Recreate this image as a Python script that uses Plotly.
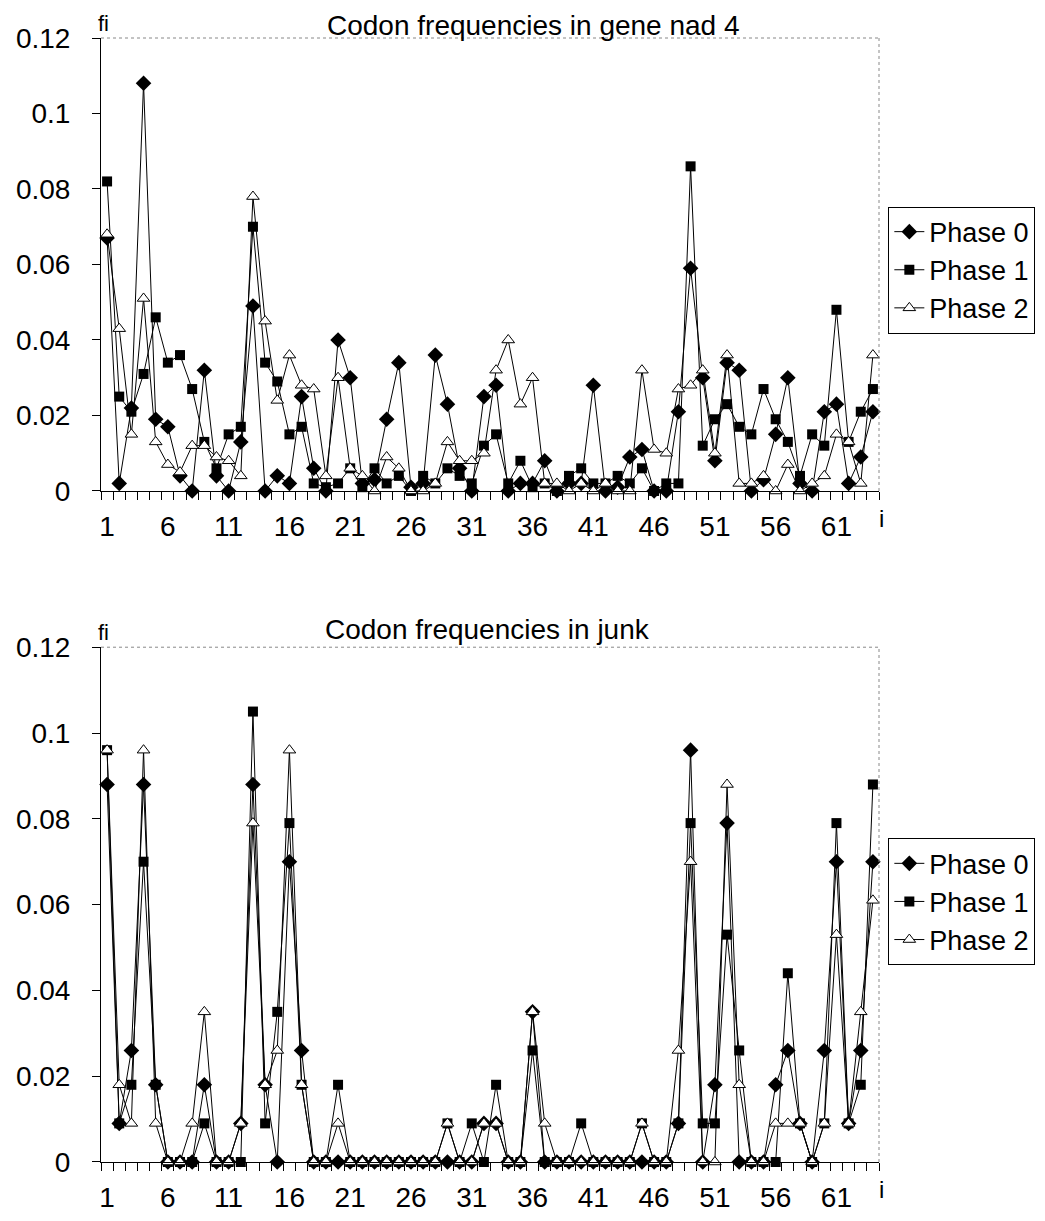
import plotly.graph_objects as go

# codon index 1..64
codons = list(range(1, 65))

# Codon frequencies in gene nad 4
nad4_phase0 = [0.067, 0.002, 0.022, 0.108, 0.019, 0.017, 0.004, 0.000, 0.032, 0.004,
               0.000, 0.013, 0.049, 0.000, 0.004, 0.002, 0.025, 0.006, 0.000, 0.040,
               0.030, 0.002, 0.003, 0.019, 0.034, 0.001, 0.002, 0.036, 0.023, 0.006,
               0.000, 0.025, 0.028, 0.000, 0.002, 0.002, 0.008, 0.000, 0.002, 0.002,
               0.028, 0.000, 0.001, 0.009, 0.011, 0.000, 0.000, 0.021, 0.059, 0.030,
               0.008, 0.034, 0.032, 0.000, 0.003, 0.015, 0.030, 0.002, 0.000, 0.021,
               0.023, 0.002, 0.009, 0.021]
nad4_phase1 = [0.082, 0.025, 0.021, 0.031, 0.046, 0.034, 0.036, 0.027, 0.013, 0.006,
               0.015, 0.017, 0.070, 0.034, 0.029, 0.015, 0.017, 0.002, 0.001, 0.002,
               0.006, 0.001, 0.006, 0.002, 0.004, 0.000, 0.004, 0.002, 0.006, 0.004,
               0.002, 0.012, 0.015, 0.002, 0.008, 0.001, 0.002, 0.000, 0.004, 0.006,
               0.002, 0.002, 0.004, 0.002, 0.006, 0.000, 0.002, 0.002, 0.086, 0.012,
               0.019, 0.023, 0.017, 0.015, 0.027, 0.019, 0.013, 0.004, 0.015, 0.012,
               0.048, 0.013, 0.021, 0.027]
nad4_phase2 = [0.068, 0.043, 0.015, 0.051, 0.013, 0.007, 0.005, 0.012, 0.012, 0.009,
               0.008, 0.004, 0.078, 0.045, 0.024, 0.036, 0.028, 0.027, 0.004, 0.030,
               0.006, 0.004, 0.000, 0.009, 0.006, 0.000, 0.000, 0.002, 0.013, 0.008,
               0.008, 0.010, 0.032, 0.040, 0.023, 0.030, 0.002, 0.002, 0.000, 0.002,
               0.000, 0.002, 0.000, 0.000, 0.032, 0.011, 0.010, 0.027, 0.028, 0.032,
               0.010, 0.036, 0.002, 0.002, 0.004, 0.000, 0.007, 0.000, 0.002, 0.004,
               0.015, 0.013, 0.002, 0.036]

# Codon frequencies in junk
junk_phase0 = [0.088, 0.009, 0.026, 0.088, 0.018, 0.000, 0.000, 0.000, 0.018, 0.000,
               0.000, 0.009, 0.088, 0.018, 0.000, 0.070, 0.026, 0.000, 0.000, 0.000,
               0.000, 0.000, 0.000, 0.000, 0.000, 0.000, 0.000, 0.000, 0.000, 0.000,
               0.000, 0.009, 0.009, 0.000, 0.000, 0.035, 0.000, 0.000, 0.000, 0.000,
               0.000, 0.000, 0.000, 0.000, 0.000, 0.000, 0.000, 0.009, 0.096, 0.000,
               0.018, 0.079, 0.000, 0.000, 0.000, 0.018, 0.026, 0.009, 0.000, 0.026,
               0.070, 0.009, 0.026, 0.070]
junk_phase1 = [0.096, 0.009, 0.018, 0.070, 0.018, 0.000, 0.000, 0.000, 0.009, 0.000,
               0.000, 0.000, 0.105, 0.009, 0.035, 0.079, 0.018, 0.000, 0.000, 0.018,
               0.000, 0.000, 0.000, 0.000, 0.000, 0.000, 0.000, 0.000, 0.009, 0.000,
               0.009, 0.000, 0.018, 0.000, 0.000, 0.026, 0.000, 0.000, 0.000, 0.009,
               0.000, 0.000, 0.000, 0.000, 0.009, 0.000, 0.000, 0.009, 0.079, 0.009,
               0.009, 0.053, 0.026, 0.000, 0.000, 0.000, 0.044, 0.009, 0.000, 0.009,
               0.079, 0.009, 0.018, 0.088]
junk_phase2 = [0.096, 0.018, 0.009, 0.096, 0.009, 0.000, 0.000, 0.009, 0.035, 0.000,
               0.000, 0.009, 0.079, 0.018, 0.026, 0.096, 0.018, 0.000, 0.000, 0.009,
               0.000, 0.000, 0.000, 0.000, 0.000, 0.000, 0.000, 0.000, 0.009, 0.000,
               0.000, 0.009, 0.009, 0.000, 0.000, 0.035, 0.009, 0.000, 0.000, 0.000,
               0.000, 0.000, 0.000, 0.000, 0.009, 0.000, 0.000, 0.026, 0.070, 0.000,
               0.000, 0.088, 0.018, 0.000, 0.000, 0.009, 0.009, 0.009, 0.000, 0.009,
               0.053, 0.009, 0.035, 0.061]

tick_labels = [1, 6, 11, 16, 21, 26, 31, 36, 41, 46, 51, 56, 61]

FONT = "Liberation Sans, Arial, sans-serif"

estilos = [
    ("Phase 0", dict(symbol="diamond", size=12, color="black")),
    ("Phase 1", dict(symbol="square", size=10, color="black")),
    ("Phase 2", dict(symbol="triangle-up", size=11, color="white",
                     line=dict(color="black", width=1))),
]

fig = go.Figure()

# panel superior (nad 4) y panel inferior (junk)
paneles = [
    ("x", "y", "legend", [nad4_phase0, nad4_phase1, nad4_phase2]),
    ("x2", "y2", "legend2", [junk_phase0, junk_phase1, junk_phase2]),
]
for xa, ya, leg, series in paneles:
    for (nombre, marcador), valores in zip(estilos, series):
        fig.add_trace(go.Scatter(
            x=codons, y=valores, mode="lines+markers", name=nombre,
            line=dict(color="black", width=1), marker=marcador,
            xaxis=xa, yaxis=ya, legend=leg, cliponaxis=False,
        ))

eje_x = dict(
    range=[0.5, 64.5], tickmode="array", tickvals=tick_labels,
    ticks="", ticklabelstandoff=10, showgrid=False, zeroline=False,
    showline=True, linecolor="black", linewidth=1, automargin=False,
    minor=dict(tickmode="linear", tick0=0.5, dtick=1, ticks="outside",
               ticklen=8, tickcolor="black", showgrid=False),
    tickfont=dict(size=28, color="black", family=FONT),
)
eje_y = dict(
    range=[0, 0.12], dtick=0.02, ticks="outside", ticklen=8, tickcolor="black",
    showgrid=False, zeroline=False, showline=True, linecolor="black", linewidth=1,
    tickfont=dict(size=28, color="black", family=FONT), ticklabelstandoff=16,
    automargin=False,
)

leyenda = dict(xanchor="left", yanchor="top", bordercolor="black", borderwidth=1,
               bgcolor="white", font=dict(size=27, family=FONT),
               itemwidth=30, tracegroupgap=0)

fig.update_layout(
    width=1045, height=1221,
    margin=dict(l=93, r=174, t=30, b=67),
    paper_bgcolor="white", plot_bgcolor="white",
    font=dict(family=FONT, color="black"),
    xaxis=dict(eje_x, anchor="y"),
    yaxis=dict(eje_y, domain=[0.597, 1.0], anchor="x"),
    xaxis2=dict(eje_x, anchor="y2"),
    yaxis2=dict(eje_y, domain=[0.0, 0.458], anchor="x2"),
    legend=dict(leyenda, x=1.012, y=0.85),
    legend2=dict(leyenda, x=1.012, y=0.288),
    showlegend=True,
)

# bordes punteados superior y derecho
for xa, ya in [("x", "y"), ("x2", "y2")]:
    for x0, y0, x1, y1 in [(0, 1, 1, 1), (1, 0, 1, 1)]:
        fig.add_shape(type="line", xref=f"{xa} domain", yref=f"{ya} domain",
                      x0=x0, y0=y0, x1=x1, y1=y1,
                      line=dict(color="#888888", width=1, dash="dot"))

# titulos y etiquetas de ejes
titulos = [("x", "y", "Codon frequencies in gene nad 4", 0.556, -5),
           ("x2", "y2", "Codon frequencies in junk", 0.497, 0)]
for xa, ya, texto, xpos, desplaz in titulos:
    fig.add_annotation(text=texto, xref=f"{xa} domain", yref=f"{ya} domain",
                       x=xpos, y=1, xanchor="center", yanchor="bottom", yshift=desplaz,
                       showarrow=False, font=dict(size=28, family=FONT))
    fig.add_annotation(text="fi", xref=f"{xa} domain", yref=f"{ya} domain",
                       x=0.003, y=1, xanchor="center", yanchor="bottom",
                       showarrow=False, font=dict(size=22, family=FONT))
    fig.add_annotation(text="i", xref=f"{xa} domain", yref=f"{ya} domain",
                       x=1.003, y=0, xanchor="center", yanchor="top", yshift=-12,
                       showarrow=False, font=dict(size=24, family=FONT))

fig.write_html("out.html")
